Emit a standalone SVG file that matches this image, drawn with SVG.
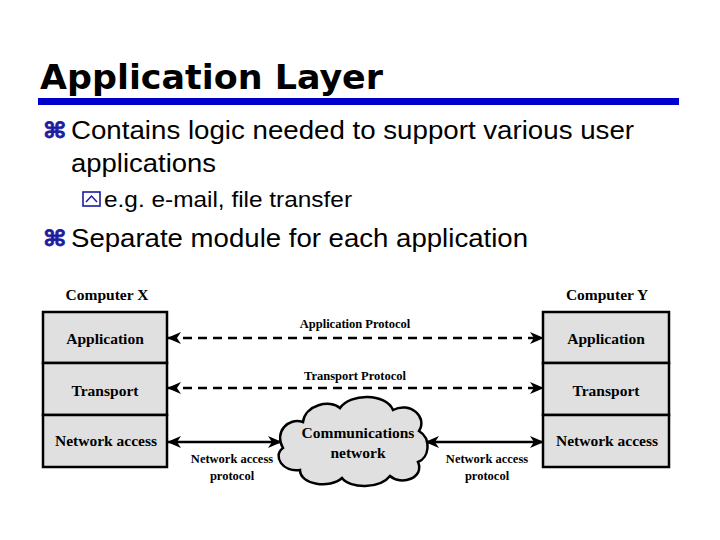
<svg xmlns="http://www.w3.org/2000/svg" width="720" height="540" viewBox="0 0 720 540">
<defs>
<style>
.title{font-family:"DejaVu Sans","Liberation Sans",sans-serif;font-weight:bold;font-size:34px;fill:#000}
.body{font-family:"Liberation Sans","DejaVu Sans",sans-serif;font-size:26px;fill:#000}
.sub{font-family:"Liberation Sans","DejaVu Sans",sans-serif;font-size:22px;fill:#000}
.bul{font-family:"DejaVu Sans",sans-serif;font-weight:bold;font-size:22px;fill:#1c1ca0;stroke:#1c1ca0;stroke-width:0.8}
.lbl{font-family:"Liberation Serif","Times New Roman",serif;font-weight:bold;font-size:15.5px;fill:#000;text-anchor:middle}
.sm{font-family:"Liberation Serif","Times New Roman",serif;font-weight:bold;font-size:12.5px;fill:#000;text-anchor:middle}
.box{fill:#e0e0e0;stroke:#000;stroke-width:2.5}
.dash{stroke:#000;stroke-width:2.5;stroke-dasharray:9 6;fill:none}
.solid{stroke:#000;stroke-width:2.5;fill:none}
</style>
<marker id="ah" viewBox="0 0 14 12" refX="13" refY="6" markerWidth="14" markerHeight="12" markerUnits="userSpaceOnUse" orient="auto-start-reverse">
<path d="M0,0 L14,6 L0,12 L4,6 Z" fill="#000"/>
</marker>
</defs>
<rect width="720" height="540" fill="#fff"/>

<g id="header">
<text class="title" x="40" y="89" textLength="343" lengthAdjust="spacingAndGlyphs">Application Layer</text>
<rect x="38" y="98" width="641" height="7" fill="#0000cc"/>
</g>

<g id="bullets">
<text class="bul" transform="translate(43,138) scale(1.15,1)">⌘</text>
<text class="body" x="71" y="139" textLength="563" lengthAdjust="spacingAndGlyphs">Contains logic needed to support various user</text>
<text class="body" x="71" y="172" textLength="145" lengthAdjust="spacingAndGlyphs">applications</text>
<rect x="83" y="192" width="17" height="14" fill="#fff" stroke="#1c1ca0" stroke-width="1.6"/>
<polyline points="86,202 91.5,196 97,202" fill="none" stroke="#1c1ca0" stroke-width="1.5"/>
<text class="sub" x="104" y="207" textLength="248" lengthAdjust="spacingAndGlyphs">e.g. e-mail, file transfer</text>
<text class="bul" transform="translate(43,246) scale(1.15,1)">⌘</text>
<text class="body" x="71" y="247" textLength="457" lengthAdjust="spacingAndGlyphs">Separate module for each application</text>
</g>

<g id="computerX">
<text class="lbl" x="107" y="300">Computer X</text>
<rect class="box" x="43" y="312" width="124" height="51"/>
<rect class="box" x="43" y="363" width="124" height="52"/>
<rect class="box" x="43" y="415" width="124" height="52"/>
<text class="lbl" x="105" y="344">Application</text>
<text class="lbl" x="105" y="396">Transport</text>
<text class="lbl" x="106" y="446">Network access</text>
</g>

<g id="computerY">
<text class="lbl" x="607" y="300">Computer Y</text>
<rect class="box" x="543" y="312" width="126" height="51"/>
<rect class="box" x="543" y="363" width="126" height="52"/>
<rect class="box" x="543" y="415" width="126" height="52"/>
<text class="lbl" x="606" y="344">Application</text>
<text class="lbl" x="606" y="396">Transport</text>
<text class="lbl" x="607" y="446">Network access</text>
</g>

<g id="cloud">
<path d="M283,448 C274,432 288,417 303,422 C305,405 330,399 340,408 C350,393 386,393 393,410 C410,401 428,417 419,431 C432,439 429,458 418,462 C425,478 401,486 390,476 C380,489 350,489 342,478 C330,489 300,485 300,470 C283,473 272,456 283,448 Z" fill="#e0e0e0" stroke="#000" stroke-width="2.5"/>
<text class="lbl" x="358" y="438">Communications</text>
<text class="lbl" x="358" y="458">network</text>
</g>

<g id="connectors">
<line class="dash" x1="168" y1="338" x2="543" y2="338" marker-start="url(#ah)" marker-end="url(#ah)"/>
<line class="dash" x1="168" y1="388" x2="543" y2="388" marker-start="url(#ah)" marker-end="url(#ah)"/>
<line class="solid" x1="168" y1="442" x2="281" y2="442" marker-start="url(#ah)" marker-end="url(#ah)"/>
<line class="solid" x1="426" y1="442" x2="543" y2="442" marker-start="url(#ah)" marker-end="url(#ah)"/>
<text class="sm" x="355" y="328">Application Protocol</text>
<text class="sm" x="355" y="380">Transport Protocol</text>
<text class="sm" x="232" y="463">Network access</text>
<text class="sm" x="232" y="480">protocol</text>
<text class="sm" x="487" y="463">Network access</text>
<text class="sm" x="487" y="480">protocol</text>
</g>
</svg>
